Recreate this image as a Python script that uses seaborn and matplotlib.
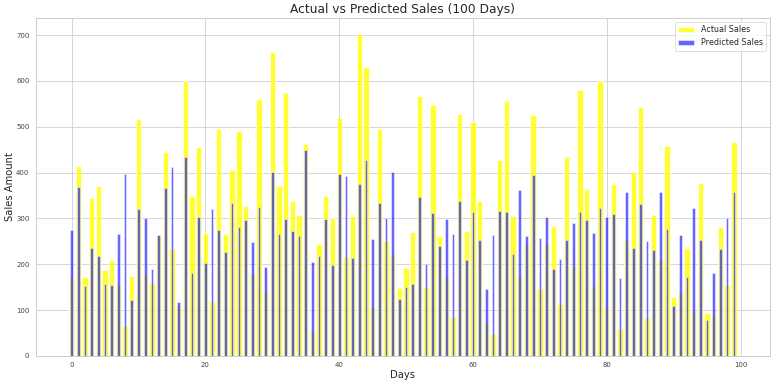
import numpy as np
import pandas as pd
import matplotlib
matplotlib.use("Agg")
import matplotlib.pyplot as plt
import seaborn as sns

sns.set(style="whitegrid")

days = list(range(100))

actual_sales = [
    173, 415, 172, 345, 371, 187, 209, 155, 66, 174,
    517, 179, 159, 264, 445, 233, 112, 600, 348, 455,
    269, 120, 494, 266, 405, 491, 327, 179, 561, 142,
    663, 371, 573, 337, 307, 463, 55, 245, 350, 301,
    519, 215, 306, 702, 631, 106, 496, 251, 223, 149,
    192, 270, 567, 151, 547, 262, 173, 85, 527, 273,
    511, 339, 71, 47, 428, 557, 306, 173, 242, 525,
    145, 245, 283, 114, 435, 196, 580, 364, 153, 600,
    107, 375, 59, 253, 401, 542, 82, 307, 209, 458,
    128, 138, 236, 96, 377, 94, 92, 282, 155, 466,
]

predicted_sales = [
    275, 369, 152, 235, 217, 156, 155, 266, 397, 123,
    321, 301, 190, 263, 367, 412, 117, 434, 180, 303,
    203, 320, 274, 227, 334, 281, 296, 248, 326, 194,
    401, 266, 299, 272, 261, 449, 206, 218, 299, 198,
    396, 392, 214, 375, 428, 256, 334, 302, 402, 125,
    150, 156, 346, 201, 312, 239, 299, 267, 337, 209,
    314, 254, 147, 264, 316, 313, 222, 361, 262, 395,
    258, 304, 189, 212, 252, 290, 313, 297, 269, 323,
    304, 309, 169, 357, 236, 331, 250, 232, 357, 278,
    109, 264, 173, 323, 253, 79, 182, 233, 301, 358,
]

df = pd.DataFrame({"Day": days, "Actual": actual_sales, "Predicted": predicted_sales})

fig, ax = plt.subplots(figsize=(14, 6.955), dpi=55.214)

sns.barplot(data=df, x="Day", y="Actual", native_scale=True, color="yellow",
            saturation=1, alpha=0.8, width=0.8, errorbar=None,
            label="Actual Sales", ax=ax)
sns.barplot(data=df, x="Day", y="Predicted", native_scale=True, color="blue",
            saturation=1, alpha=0.6, width=0.4, errorbar=None,
            label="Predicted Sales", ax=ax)

ax.set_title("Actual vs Predicted Sales (100 Days)", fontsize=16)
ax.set_xlabel("Days", fontsize=13, labelpad=2)
ax.set_ylabel("Sales Amount", fontsize=13, labelpad=2)
ax.set_xticks([0, 20, 40, 60, 80, 100])
ax.tick_params(labelsize=9, pad=2, labelcolor="#444444")
ax.legend(loc="upper right", fontsize=10.5)

fig.subplots_adjust(left=0.046, right=0.996, top=0.953, bottom=0.073)
fig.savefig("out.png", dpi=55.214)
